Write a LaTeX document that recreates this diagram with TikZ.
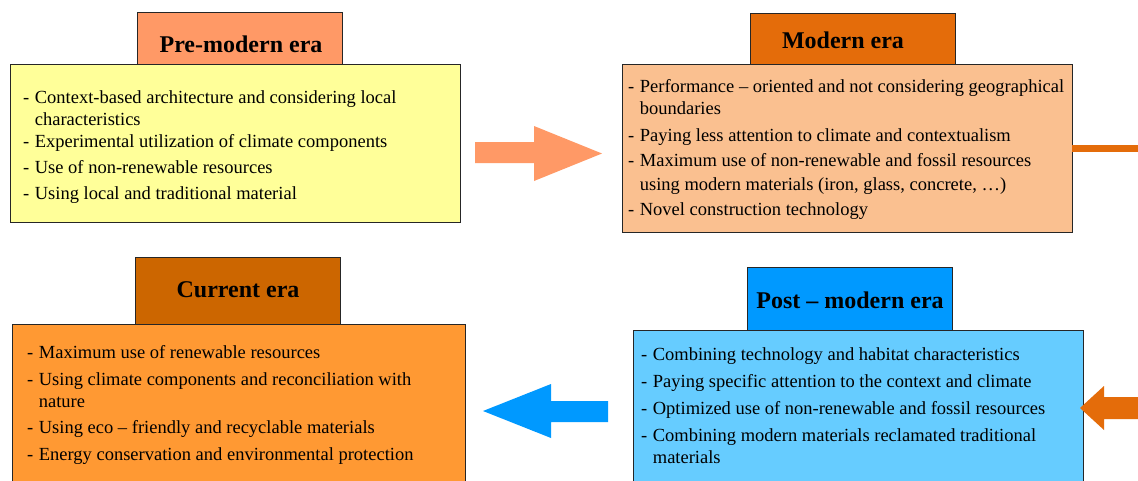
\documentclass[tikz,border=0pt]{standalone}
\usepackage{fontspec}
\setmainfont{Liberation Serif}
\definecolor{salmon}{HTML}{FF9966}
\definecolor{paleyellow}{HTML}{FFFF99}
\definecolor{modorange}{HTML}{E46C0A}
\definecolor{peach}{HTML}{FAC090}
\definecolor{curtitle}{HTML}{CC6600}
\definecolor{curbody}{HTML}{FF9933}
\definecolor{posttitle}{HTML}{0099FF}
\definecolor{postbody}{HTML}{66CCFF}
\begin{document}
\begin{tikzpicture}[x=1pt,y=-1pt,
  box/.style={draw=black!85, line width=0.9pt, inner sep=0pt, outer sep=0pt, anchor=north west},
  ttl/.style={font=\fontsize{24}{28}\selectfont\bfseries, inner sep=0pt, anchor=base},
  txt/.style={font=\fontsize{18.5}{22}\selectfont, inner sep=0pt, anchor=base west, align=left}]
\useasboundingbox (0,0) rectangle (1138,480);
\clip (0,0) rectangle (1138,480);
\fill[white] (0,0) rectangle (1138,480);

% Pre-modern
\node[box, fill=paleyellow, minimum width=450pt, minimum height=158pt] (prebody) at (10,64) {};
\node[box, fill=salmon, minimum width=205pt, minimum height=52pt] (pretitle) at (137,12) {};
\node[ttl] (pretext) at (241,52) {Pre-modern era};
\node[txt] (preitems) at (23,103) {\begin{tabular}[t]{@{}l@{\hspace{5.5pt}}l@{}}
- & Context-based architecture and considering local\\
  & characteristics\\[0pt]
- & Experimental utilization of climate components\\[4pt]
- & Use of non-renewable resources\\[4pt]
- & Using local and traditional material
\end{tabular}};

% Modern
\node[box, fill=peach, minimum width=450pt, minimum height=168pt] (modbody) at (622,64) {};
\node[box, fill=modorange, minimum width=205pt, minimum height=51pt] (modtitle) at (750,13) {};
\node[ttl] (modtext) at (843,48) {Modern era};
\node[txt] (moditems) at (628,92) {\begin{tabular}[t]{@{}l@{\hspace{5.5pt}}l@{}}
- & Performance – oriented and not considering geographical\\
  & boundaries\\[5pt]
- & Paying less attention to climate and contextualism\\[3pt]
- & Maximum use of non-renewable and fossil resources\\[2pt]
  & using modern materials (iron, glass, concrete, …)\\[3pt]
- & Novel construction technology
\end{tabular}};

% Current
\node[box, fill=curbody, minimum width=453pt, minimum height=170pt] (curbody) at (12,324) {};
\node[box, fill=curtitle, minimum width=205pt, minimum height=67pt] (curtitle) at (135,257) {};
\node[ttl] (curtext) at (238,297) {Current era};
\node[txt] (curitems) at (27,358) {\begin{tabular}[t]{@{}l@{\hspace{5.5pt}}l@{}}
- & Maximum use of renewable resources\\[5pt]
- & Using climate components and reconciliation with\\
  & nature\\[4pt]
- & Using eco – friendly and recyclable materials\\[5pt]
- & Energy conservation and environmental protection
\end{tabular}};

% Post-modern
\node[box, fill=postbody, minimum width=450pt, minimum height=164pt] (postbody) at (633,330) {};
\node[box, fill=posttitle, minimum width=205pt, minimum height=63pt] (posttitle) at (747,267) {};
\node[ttl] (posttext) at (850,308) {Post – modern era};
\node[txt] (postitems) at (641,360) {\begin{tabular}[t]{@{}l@{\hspace{5.5pt}}l@{}}
- & Combining technology and habitat characteristics\\[5pt]
- & Paying specific attention to the context and climate\\[5pt]
- & Optimized use of non-renewable and fossil resources\\[5pt]
- & Combining modern materials reclamated traditional\\
  & materials
\end{tabular}};

% Block arrows
\fill[salmon] (475,142) -- (534,142) -- (534,126) -- (602,153.5) -- (534,181) -- (534,163) -- (475,163) -- cycle;
\fill[posttitle] (608,401) -- (551,401) -- (551,384) -- (483,411) -- (551,438) -- (551,422) -- (608,422) -- cycle;

% Connector from Modern to Post-modern (leaves the picture on the right)
\coordinate (offright) at (1160,148);
\draw[modorange, line width=7pt] (modbody.east) -- (offright);
\fill[modorange] (1150,397) -- (1104,397) -- (1104,386) -- (1080,408) -- (1104,430) -- (1104,419) -- (1150,419) -- cycle;
\end{tikzpicture}
\end{document}
